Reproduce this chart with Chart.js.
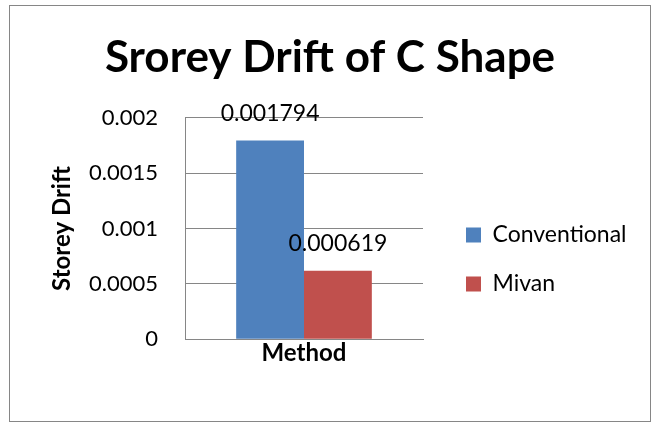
<!DOCTYPE html>
<html>
<head>
<meta charset="utf-8">
<script src="https://cdn.jsdelivr.net/npm/chart.js@4.4.0/dist/chart.umd.min.js"></script>
<style>
  html, body { margin: 0; padding: 0; background: #fff; }
  #frame {
    position: absolute; left: 9px; top: 5px;
    width: 642px; height: 417px;
    border: 1px solid #868686; box-sizing: border-box;
  }
</style>
</head>
<body>
<div id="frame"><canvas id="chart"></canvas></div>
<script>
// --- data ---
const categories = ['Method'];
const conventional = [0.001794];
const mivan = [0.000619];
const yTicks = [0, 0.0005, 0.001, 0.0015, 0.002];

const FONT = "Lato, 'Liberation Sans', sans-serif";

// value labels above each bar
const barLabels = {
    id: 'barLabels',
    afterDatasetsDraw(chart) {
        const ctx = chart.ctx;
        ctx.save();
        ctx.font = `23px ${FONT}`;
        ctx.fillStyle = '#000';
        ctx.textAlign = 'center';
        ctx.textBaseline = 'middle';
        chart.data.datasets.forEach((ds, i) => {
            chart.getDatasetMeta(i).data.forEach((bar, j) => {
                ctx.fillText(String(ds.data[j]), bar.x, bar.y - 27);
            });
        });
        ctx.restore();
    }
};

// put the legend to the right of the plot, where Excel had it
const legendPlace = {
    id: 'legendPlace',
    afterLayout(chart) {
        const lg = chart.legend;
        const pad = lg.options.labels.padding;
        const h = lg.legendHitBoxes.length ? lg.legendHitBoxes[0].height : 0;
        const w = lg.width, ht = lg.height;
        lg.left = 456 - pad;
        lg.top = 229 - pad - h / 2;
        lg.right = lg.left + w;
        lg.bottom = lg.top + ht;
    }
};

new Chart(document.getElementById('chart'), {
    type: 'bar',
    data: {
        labels: categories,
        datasets: [
            { label: 'Conventional', data: conventional, backgroundColor: '#4f81bd' },
            { label: 'Mivan', data: mivan, backgroundColor: '#c0504d' }
        ]
    },
    options: {
        responsive: true,
        maintainAspectRatio: false,
        animation: false,
        layout: { padding: { left: 0, right: 0, top: 0, bottom: 53 } },
        categoryPercentage: 0.57,
        barPercentage: 1.0,
        plugins: {
            title: {
                display: true,
                text: 'Srorey Drift of C Shape',
                color: '#000',
                font: { family: FONT, size: 44, weight: 'bold' },
                padding: { top: 25, bottom: 34 }
            },
            legend: {
                position: 'chartArea',
                align: 'start',
                labels: {
                    color: '#000',
                    font: { family: FONT, size: 23 },
                    boxWidth: 15,
                    boxHeight: 15,
                    padding: 26
                }
            },
            tooltip: { enabled: false }
        },
        scales: {
            x: {
                ticks: { display: false },
                grid: { display: false, drawTicks: false },
                border: { color: '#868686' },
                title: {
                    display: true,
                    text: 'Method',
                    color: '#000',
                    font: { family: FONT, size: 24, weight: 'bold' },
                    padding: { top: 0, bottom: 0 }
                }
            },
            y: {
                min: 0,
                max: 0.002,
                afterBuildTicks(axis) { axis.ticks = yTicks.map(v => ({ value: v })); },
                afterFit(axis) { axis.width = 175; },
                ticks: {
                    color: '#000',
                    font: { family: FONT, size: 22 },
                    padding: 27,
                    callback: v => String(v)
                },
                grid: { color: '#868686', drawTicks: false },
                border: { color: '#868686' },
                title: {
                    display: true,
                    text: 'Storey Drift',
                    color: '#000',
                    font: { family: FONT, size: 24, weight: 'bold' },
                    padding: { top: 38, bottom: 0 }
                }
            },
            // empty right-hand axis that only keeps room for the legend
            yRight: {
                position: 'right',
                afterFit(axis) { axis.width = 227; },
                ticks: { display: false },
                grid: { display: false, drawTicks: false },
                border: { display: false }
            }
        }
    },
    plugins: [barLabels, legendPlace]
});
</script>
</body>
</html>
